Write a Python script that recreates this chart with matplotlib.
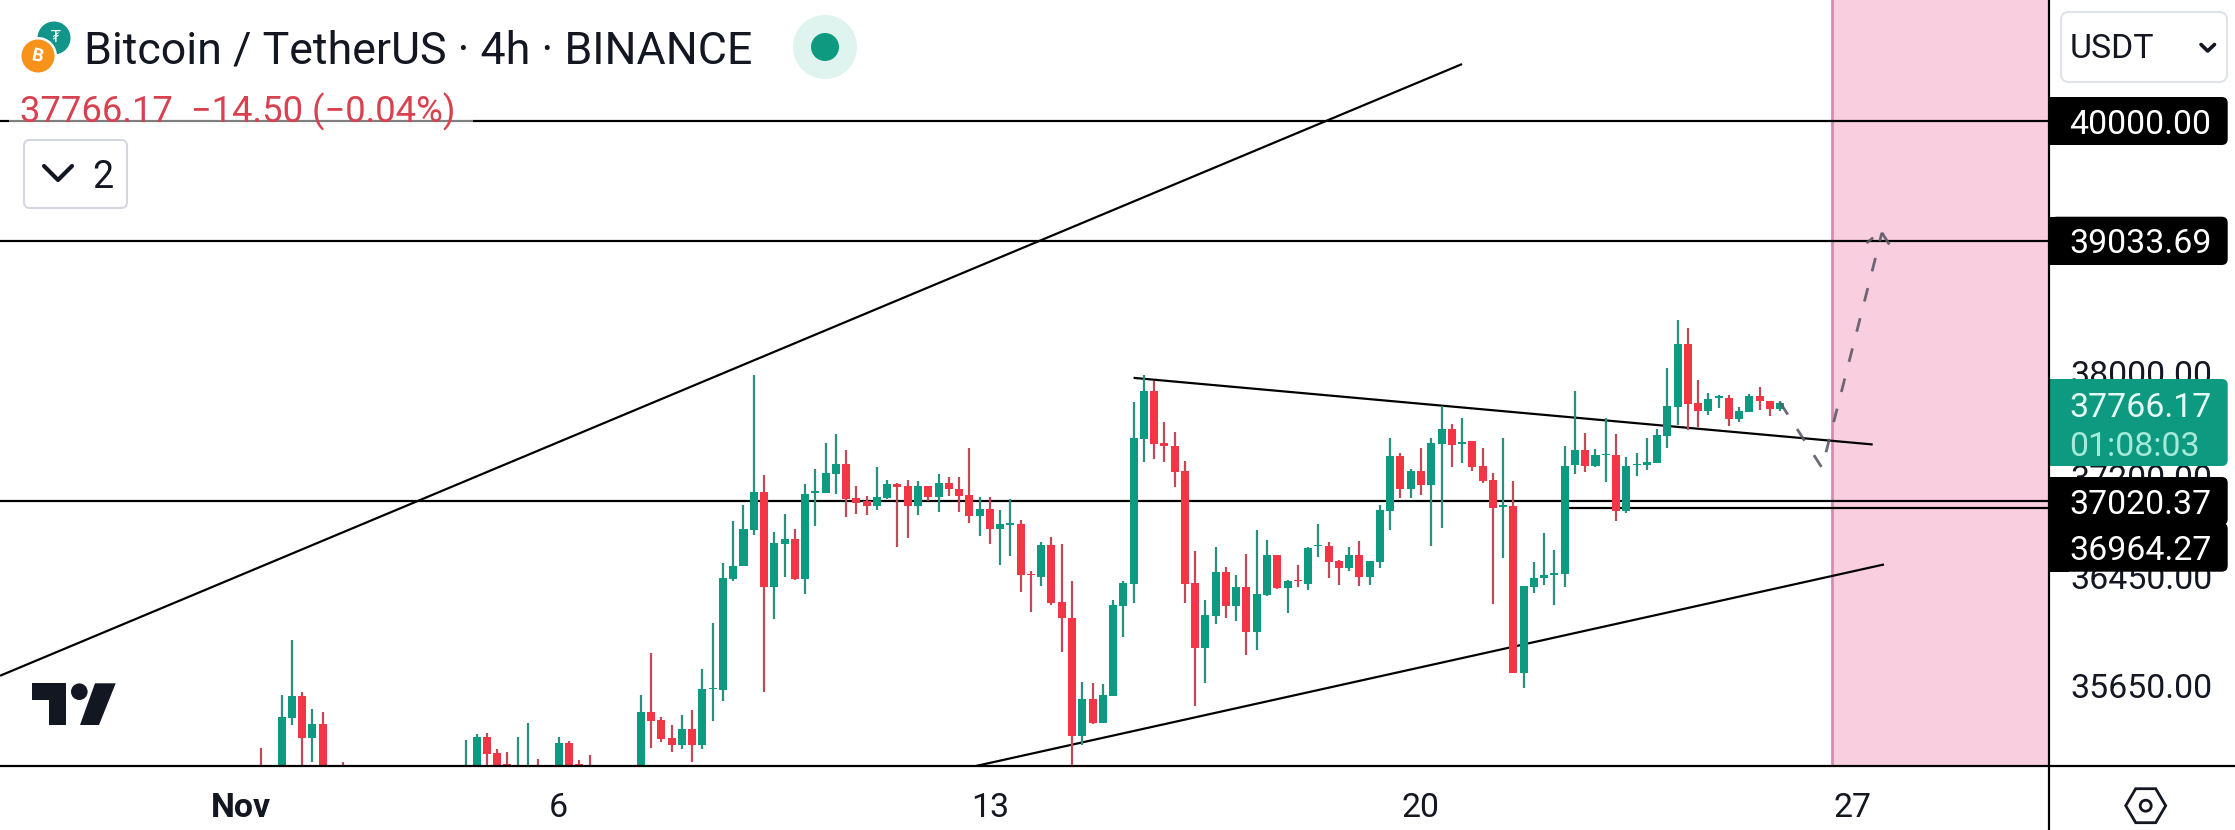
import matplotlib
matplotlib.use("Agg")
import matplotlib.pyplot as plt
from matplotlib.patches import Circle, Rectangle, FancyBboxPatch, Polygon
from matplotlib.lines import Line2D

plt.rcParams['font.family'] = ['Roboto', 'DejaVu Sans']

# ---------- data ----------
bar_index = [0, 2, 3, 4, 5, 6, 8, 20, 21, 22, 23, 24, 25, 26, 27, 29, 30, 31, 32]
bar_index += list(range(37, 149))

# 1 = rising (green), 0 = falling (red)
bar_rising = [0, 1, 1, 0, 1, 0, 0, 1, 1, 0, 0, 0, 1, 1, 0, 1, 0, 0, 0,
              # 37-48
              1, 0, 0, 0, 1, 0, 1, 1, 1, 1, 1, 1,
              # 49-60
              0, 1, 1, 0, 1, 1, 1, 1, 0, 0, 0, 1,
              # 61-72
              1, 0, 0, 1, 0, 1, 0, 0, 0, 1, 0, 1,
              # 73-84
              1, 0, 0, 1, 0, 0, 0, 1, 0, 1, 1, 1,
              # 85-96
              1, 1, 0, 0, 0, 0, 0, 1, 1, 0, 1, 0,
              # 97-108
              1, 1, 0, 1, 0, 1, 1, 0, 0, 1, 0, 1,
              # 109-120
              1, 1, 0, 1, 0, 1, 1, 0, 1, 0, 0, 0,
              # 121-132
              1, 0, 1, 1, 1, 1, 1, 1, 0, 1, 1, 0,
              # 133-148
              1, 1, 1, 1, 1, 1, 0, 0, 1, 1, 0, 1, 1, 0, 0, 1]

body_top = [35040, 35424, 35575, 35575, 35373, 35373, 35030, 35040, 35280, 35280,
            35164, 35085, 35040, 35040, 35040, 35236, 35236, 35085, 35050,
            # 37-48
            35460, 35460, 35402, 35272, 35337, 35337, 35627, 35630, 36442, 36532, 36808, 37086,
            # 49-60
            37086, 36704, 36734, 36734, 37071, 37090, 37231, 37300, 37300, 37040, 37017, 37048,
            # 61-72
            37147, 37147, 37132, 37132, 37132, 37155, 37155, 37109, 37063, 36958, 36958, 36846,
            # 73-84
            36853, 36846, 36472, 36689, 36689, 36263, 36146, 35553, 35553, 35583, 36241, 36407,
            # 85-96
            37498, 37858, 37858, 37460, 37437, 37246, 36405, 36168, 36487, 36487, 36375, 36375,
            # 97-108
            36323, 36614, 36614, 36422, 36427, 36666, 36689, 36681, 36569, 36614, 36614, 36569,
            # 109-120
            36950, 37361, 37361, 37246, 37246, 37460, 37567, 37567, 37468, 37470, 37284, 37178,
            # 121-132
            36988, 36980, 36383, 36442, 36465, 36480, 37284, 37407, 37407, 37368, 37376, 37368,
            # 133-148
            37284, 37300, 37315, 37521, 37742, 38224, 38224, 37765, 37796, 37819, 37804, 37704,
            37819, 37819, 37780, 37766.17]

body_bottom = [35010, 35000, 35419, 35275, 35275, 35000, 35000, 34990, 35000, 35157,
               35000, 35030, 34990, 34990, 35010, 35000, 35000, 35020, 35020,
               # 37-48
               35000, 35397, 35267, 35222, 35222, 35222, 35222, 35623, 35619, 36433, 36527, 36801,
               # 49-60
               36377, 36377, 36696, 36435, 36435, 37082, 37080, 37223, 37033, 37005, 36980, 36980,
               # 61-72
               37040, 37127, 36980, 36980, 37048, 37048, 37109, 37056, 36908, 36905, 36808, 36808,
               # 73-84
               36840, 36460, 36462, 36445, 36256, 36146, 35289, 35289, 35383, 35383, 35577, 36234,
               # 85-96
               36398, 37490, 37452, 37432, 37239, 36398, 35922, 35922, 36161, 36234, 36234, 36044,
               # 97-108
               36044, 36313, 36368, 36370, 36418, 36398, 36679, 36562, 36517, 36512, 36450, 36450,
               # 109-120
               36562, 36943, 37109, 37109, 37139, 37139, 37452, 37445, 37452, 37279, 37170, 36967,
               # 121-132
               36975, 35744, 35744, 36375, 36442, 36465, 36472, 37287, 37284, 37284, 37366, 36945,
               # 133-148
               36945, 37292, 37292, 37307, 37513, 37735, 37757, 37706, 37706, 37806, 37643, 37643,
               37699, 37780, 37719, 37719]

wick_high = [35200, 35583, 35985, 35605, 35481, 35460, 35097, 35258, 35301, 35308,
             35193, 35172, 35280, 35380, 35121, 35280, 35251, 35114, 35150,
             # 37-48
             35583, 35890, 35424, 35366, 35438, 35474, 35773, 36110, 36553, 36868, 36988, 37983,
             # 49-60
             37216, 36786, 36920, 36808, 37147, 37262, 37460, 37529, 37407, 37132, 37056, 37277,
             # 61-72
             37178, 37156, 37178, 37170, 37132, 37223, 37201, 37203, 37422, 37048, 37048, 36950,
             # 73-84
             37033, 36876, 36495, 36713, 36749, 36696, 36420, 35678, 35670, 35663, 36278, 36422,
             # 85-96
             37775, 37983, 37938, 37620, 37544, 37323, 36644, 36278, 36676, 36524, 36465, 36622,
             # 97-108
             36801, 36726, 36614, 36427, 36539, 36676, 36846, 36711, 36577, 36676, 36719, 36569,
             # 109-120
             36988, 37498, 37384, 37262, 37422, 37498, 37745, 37605, 37651, 37475, 37422, 37231,
             # 121-132
             37498, 37170, 36383, 36562, 36779, 36651, 37432, 37858, 37536, 37414, 37651, 37529,
             # 133-148
             37353, 37384, 37498, 37567, 38037, 38411, 38349, 37944, 37843, 37829, 37827, 37735,
             37835, 37889, 37780, 37780]

wick_low = [34950, 34950, 35366, 34950, 35102, 34950, 34950, 34950, 34950, 34950,
            34950, 34950, 34950, 34950, 34950, 34950, 34950, 34950, 34950,
            # 37-48
            34950, 35203, 35244, 35174, 35193, 35102, 35193, 35395, 35541, 36422, 36527, 36764,
            # 49-60
            35607, 36139, 36452, 36427, 36323, 36826, 37080, 37071, 36900, 36920, 36913, 36950,
            # 61-72
            37033, 36669, 36736, 36913, 37020, 36938, 37056, 36938, 36855, 36758, 36696, 36539,
            # 73-84
            36607, 36338, 36192, 36385, 36241, 35892, 34950, 35218, 35373, 35383, 35577, 36009,
            # 85-96
            36258, 37310, 37338, 37310, 37127, 36258, 35505, 35673, 36102, 36148, 36124, 35870,
            # 97-108
            35912, 36308, 36360, 36185, 36377, 36353, 36601, 36442, 36390, 36497, 36383, 36390,
            # 109-120
            36517, 36801, 37040, 37040, 37063, 36681, 36816, 37272, 37307, 37246, 37155, 36249,
            # 121-132
            36592, 35744, 35636, 36332, 36390, 36244, 36377, 37219, 37239, 37272, 37162, 36870,
            # 133-148
            36928, 37210, 37254, 37307, 37422, 37597, 37554, 37584, 37673, 37727, 37590, 37620,
            37699, 37712, 37666, 37706]

level_lines = [40000.00, 39033.69, 37020.37]
partial_level = 36964.27
partial_level_start = 127

last_price = 37766.17
countdown = "01:08:03"

rising_channel_x = [-25.43, 117.0]
rising_channel_y = [35722, 40467]
falling_line_x = [85.0, 157.0]
falling_line_y = [37959, 37447]
support_line_x = [69.65, 158.1]
support_line_y = [35071, 36542]

forecast_x = [148.0, 152.07, 157.9]
forecast_y = [37766.17, 37269, 39099]
arrow_left_x = [156.4, 157.05]
arrow_left_y = [39017, 39060]
arrow_right_x = [157.9, 158.9]
arrow_right_y = [39099, 38970]

zone_start = 153.0

price_ticks = [38000.00, 37200.00, 36450.00, 35650.00]
date_ticks = [-2, 29, 71, 113, 155]
date_labels = ["Nov", "6", "13", "20", "27"]

# ---------- style ----------
W, H = 2235, 830
AX_R, AX_B = 2048.7, 765.7
UP = '#0e9a80'
DOWN = '#f23645'
UP_W = '#2a8f7f'
DOWN_W = '#c04a5a'
INK = '#131722'
DPI = 100
LW = 2.2 * 72 / DPI

fig = plt.figure(figsize=(W / DPI, H / DPI), dpi=DPI, facecolor='white')
ax = fig.add_axes([0, 1 - AX_B / H, AX_R / W, AX_B / H], zorder=1)
ax.set_yscale('log')
ax.set_xlim(-25.43, 174.15)
ax.set_ylim(35073, 40999)
for s in ax.spines.values():
    s.set_visible(False)
ax.minorticks_off()

# zone and levels
ax.axvspan(zone_start, 174.15, facecolor='#f9cfe0', edgecolor='none', zorder=0.5)
ax.axvline(zone_start, color='#d68cb2', lw=2.0, zorder=0.6)
for lvl in level_lines:
    ax.axhline(lvl, color='black', lw=LW, zorder=1)
ax.plot([partial_level_start, 174.15], [partial_level] * 2, color='black', lw=LW, zorder=1)
for xs, ys in [(rising_channel_x, rising_channel_y), (falling_line_x, falling_line_y),
               (support_line_x, support_line_y)]:
    ax.plot(xs, ys, color='black', lw=LW, zorder=1, solid_capstyle='butt')

# candles
wick_colors = [UP_W if r else DOWN_W for r in bar_rising]
body_colors = [UP if r else DOWN for r in bar_rising]
ax.vlines(bar_index, wick_low, wick_high, colors=wick_colors, lw=1.6, zorder=3)
ax.bar(bar_index, [t - b for t, b in zip(body_top, body_bottom)], bottom=body_bottom,
       width=0.78, color=body_colors, linewidth=0, zorder=3.2)

# forecast path
dash = (0, (5.0, 6.2))
for xs, ys in [(forecast_x, forecast_y), (arrow_left_x, arrow_left_y), (arrow_right_x, arrow_right_y)]:
    ax.plot(xs, ys, color='#5f5a66', lw=2.0, linestyle=dash, alpha=0.9, zorder=4,
            dash_capstyle='butt', dash_joinstyle='miter')

# axes ticks
ax.yaxis.tick_right()
ax.set_yticks(price_ticks)
ax.set_yticklabels([f"{p:.2f}" for p in price_ticks], fontsize=24.4, color=INK)
ax.tick_params(axis='y', which='both', length=0, pad=15.5)
ax.set_xticks(date_ticks)
ax.set_xticklabels(date_labels, fontsize=24.4, color=INK)
ax.get_xticklabels()[0].set_fontweight('bold')
ax.tick_params(axis='x', which='both', length=0, pad=19)

# ---------- overlay in pixel coordinates ----------
ov = fig.add_axes([0, 0, 1, 1], zorder=5)
ov.set_xlim(0, W)
ov.set_ylim(H, 0)
ov.axis('off')
ov.patch.set_alpha(0)

ov.add_line(Line2D([0, W], [AX_B, AX_B], color='black', lw=LW))
ov.add_line(Line2D([AX_R, AX_R], [0, H], color='black', lw=LW))


def price_box(y0, y1, color):
    ov.add_patch(FancyBboxPatch((AX_R + 8, y0 + 6), W - 7.3 - AX_R - 14, y1 - y0 - 12,
                                boxstyle="round,pad=6,rounding_size=6", fc=color, ec='none'))
    ov.add_patch(Rectangle((AX_R, y0), 20, y1 - y0, fc=color, ec='none'))


TX = 2069.5
for y0, y1, val in [(97, 145, level_lines[0]), (216.7, 265, level_lines[1]),
                    (477, 525, level_lines[2]), (522.7, 571.7, partial_level)]:
    price_box(y0, y1, 'black')
    ov.text(TX, (y0 + y1) / 2, f"{val:.2f}", color='white', fontsize=24.4, va='center_baseline', ha='left')
price_box(379, 466, UP)
ov.text(TX, 404, f"{last_price:.2f}", color='#e6faf5', fontsize=24.4, va='center_baseline', ha='left')
ov.text(TX, 443, countdown, color='#a6ead9', fontsize=24.4, va='center_baseline', ha='left')

# legend strip
ov.add_patch(Rectangle((9, 88), 464, 36, fc='white', alpha=0.5, ec='none'))
ov.text(84, 47, "Bitcoin / TetherUS · 4h · BINANCE", fontsize=32.2, color=INK, va='center_baseline', ha='left')
ov.text(20, 108, "37766.17  −14.50 (−0.04%)", fontsize=26.2, color='#d8414f', va='center_baseline', ha='left')

# symbol icons
ov.add_patch(Circle((54, 38), 16.5, fc='#11948a', ec='none'))
ov.text(56, 37, "₮", color='white', fontsize=11, ha='center', va='center', family='DejaVu Sans')
ov.add_patch(Circle((38, 56), 19, fc='white', ec='none'))
ov.add_patch(Circle((38, 56), 16.5, fc='#f7931a', ec='none'))
ov.text(38, 56, "B", color='white', fontsize=13, fontweight='bold', ha='center', va='center', rotation=-12)

# market-status dot
ov.add_patch(Circle((825, 47), 32, fc='#dff3ef', ec='none'))
ov.add_patch(Circle((825, 47), 14, fc=UP, ec='none'))

# collapse button
ov.add_patch(FancyBboxPatch((30, 146), 91, 56, boxstyle="round,pad=6,rounding_size=6",
                            fc='white', ec='#d4d7df', lw=1.5))
ov.add_line(Line2D([44, 58, 72], [166, 180, 166], color=INK, lw=3, solid_capstyle='round'))
ov.text(103, 173, "2", fontsize=27, color=INK, ha='center', va='center_baseline')

# currency button
ov.add_patch(FancyBboxPatch((2069, 20), 150, 54, boxstyle="round,pad=8,rounding_size=8",
                            fc='white', ec='#e0e3eb', lw=1.5))
ov.text(2070, 45, "USDT", fontsize=24.4, color=INK, va='center_baseline', ha='left')
ov.add_line(Line2D([2201, 2207.7, 2214.5], [44.5, 51, 44.5], color=INK, lw=2.6, solid_capstyle='round'))

# settings hexagon
cx, cy = 2145.7, 805.7
ov.add_patch(Polygon([(cx - 20, cy), (cx - 10, cy - 17), (cx + 10, cy - 17),
                      (cx + 20, cy), (cx + 10, cy + 17), (cx - 10, cy + 17)],
                     closed=True, fc='white', ec=INK, lw=2))
ov.add_patch(Circle((cx, cy), 5.5, fc='white', ec=INK, lw=2))

# TradingView logo
ov.add_patch(Polygon([(31.7, 683.3), (65.7, 683.3), (65.7, 725), (49, 725), (49, 700), (31.7, 700)],
                     closed=True, fc=INK, ec='none'))
ov.add_patch(Circle((79.3, 691.7), 8.3, fc=INK, ec='none'))
ov.add_patch(Polygon([(115.7, 683.3), (99, 725), (80, 725), (95, 683.3)], closed=True, fc=INK, ec='none'))

fig.savefig("out.png", dpi=DPI)
